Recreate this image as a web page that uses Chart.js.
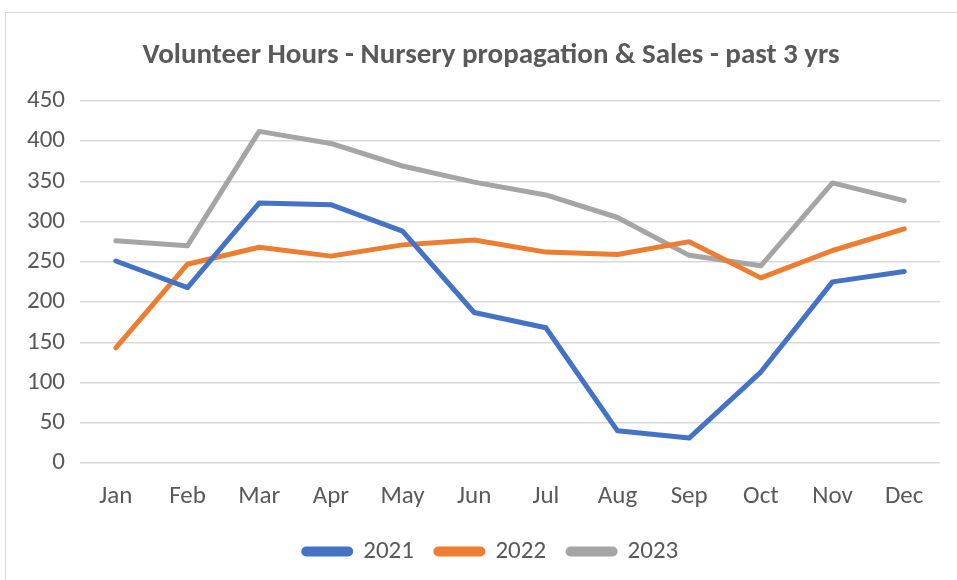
<!DOCTYPE html>
<html>
<head>
<meta charset="utf-8">
<script src="https://cdn.jsdelivr.net/npm/chart.js@4/dist/chart.umd.min.js"></script>
<style>
  html, body { margin: 0; padding: 0; background: #fff; overflow: hidden; }
  #frame { position: absolute; left: 5px; top: 12px; width: 1000px; height: 1000px; border: 1px solid #d9d9d9; }
  #wrap { position: absolute; left: 0; top: 0; width: 957px; height: 580px; }
</style>
</head>
<body>
<div id="frame"></div>
<div id="wrap"><canvas id="hours"></canvas></div>
<script>
// Volunteer hours per month
const months = ['Jan', 'Feb', 'Mar', 'Apr', 'May', 'Jun', 'Jul', 'Aug', 'Sep', 'Oct', 'Nov', 'Dec']
const hours2021 = [251, 218, 323, 321, 288, 187, 168, 40, 31, 113, 225, 238]
const hours2022 = [143, 247, 268, 257, 271, 277, 262, 259, 275, 230, 264, 291]
const hours2023 = [276, 270, 412, 397, 369, 349, 333, 305, 258, 245, 348, 326]
const yTicks = [0, 50, 100, 150, 200, 250, 300, 350, 400, 450]

const COLORS = { blue: '#4472c4', orange: '#ed7d31', gray: '#a5a5a5', text: '#595959', grid: '#d9d9d9' }
const FONT = 'Calibri, Carlito, "Noto Sans", sans-serif'

function series(label, data, color) {
  return {
    label,
    data,
    borderColor: color,
    backgroundColor: color,
    borderWidth: 5,
    pointRadius: 0,
    tension: 0,
    borderCapStyle: 'round',
    borderJoinStyle: 'round',
  }
}

new Chart(document.getElementById('hours'), {
  type: 'line',
  data: {
    labels: months,
    datasets: [
      series('2021', hours2021, COLORS.blue),
      series('2022', hours2022, COLORS.orange),
      series('2023', hours2023, COLORS.gray),
    ]
  },
  options: {
    responsive: true,
    maintainAspectRatio: false,
    animation: false,
    layout: { padding: { left: 27, right: 2, top: 0, bottom: 6 } },
    scales: {
      x: {
        offset: true,
        grid: { display: false, drawTicks: false },
        border: { display: false },
        ticks: { color: COLORS.text, font: { family: FONT, size: 25 }, padding: 19 },
        afterFit: (s) => { s.height = 54 },
      },
      y: {
        min: 0,
        max: 450,
        afterBuildTicks: (s) => { s.ticks = yTicks.map(v => ({ value: v })) },
        grid: { color: COLORS.grid, lineWidth: 1.5, drawTicks: false },
        border: { display: false },
        ticks: { color: COLORS.text, font: { family: FONT, size: 25 }, padding: 15 },
        afterFit: (s) => { s.width = 53 },
      },
      // empty spacer on the right so title and legend sit centred like the original
      spacer: {
        position: 'right',
        min: 0,
        max: 450,
        grid: { display: false, drawTicks: false },
        border: { display: false },
        ticks: { display: false },
        afterFit: (s) => { s.width = 15 },
      }
    },
    plugins: {
      title: {
        display: true,
        text: 'Volunteer Hours - Nursery propagation & Sales - past 3 yrs',
        color: COLORS.text,
        font: { family: FONT, size: 29, weight: 'bold' },
        padding: { top: 38, bottom: 28 },
      },
      legend: {
        position: 'bottom',
        labels: {
          color: COLORS.text,
          font: { family: FONT, size: 25 },
          boxWidth: 47,
          boxHeight: 5,
          padding: 22,
          useBorderRadius: true,
          borderRadius: 2.5,
        }
      },
      tooltip: { enabled: false }
    }
  }
})
</script>
</body>
</html>
